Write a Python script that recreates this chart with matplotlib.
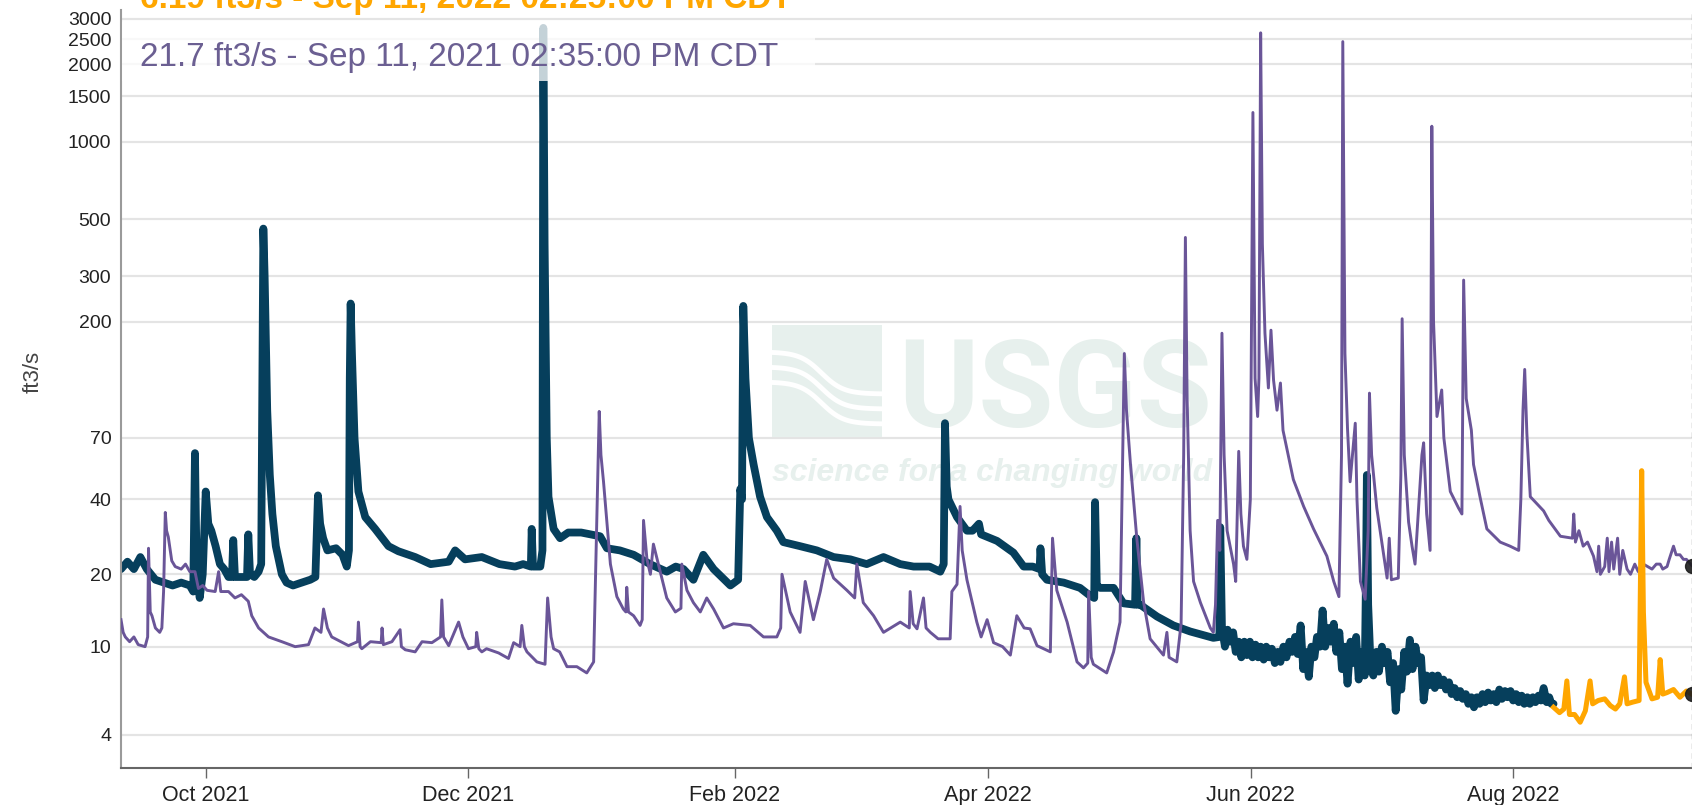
import numpy as np
import matplotlib
matplotlib.use("Agg")
import matplotlib.pyplot as plt
from matplotlib.patches import Rectangle
from matplotlib.ticker import NullLocator
from datetime import datetime, timedelta

# time axis: days counted from the left edge of the plot
start = datetime(2021, 9, 11, 8, 0)
span_days = 365.3

# current year (dark) discharge, ft3/s
dark_days = [0, 1.5, 3, 4.5, 6, 8, 10, 12, 14, 16, 16.8, 17.2, 17.6, 18.3, 19.0, 19.7, 20.3, 21.0,
             22.0, 23.0, 24.0, 25.0, 25.8, 26.1, 26.5, 28.0, 29.3, 29.6, 30.0, 31.0, 32.0, 32.6,
             32.9, 33.1, 33.4, 34.0, 34.6, 35.2, 36.0, 37.4, 38.5, 40, 42, 44, 45.2, 45.8, 46.3,
             47, 48, 50, 51.5, 52.5, 53.0, 53.2, 53.4, 53.7, 54.3, 55.2, 56.8, 59.1, 62.2, 64.5,
             68.4, 72, 76.2, 77.7, 80, 83.9, 88, 91.6, 93.5, 95.3, 95.5, 95.8, 97.5, 98.0, 98.2,
             98.5, 99.0, 99.4, 100.6, 102.1, 104, 107, 111.4, 113, 116, 119.2, 123, 126.9, 129,
             130.8, 133.1, 135.4, 137.8, 141.7, 143.5, 144.0, 144.4, 144.7, 145.2, 146, 147.1,
             148.6, 150.2, 152.5, 154, 157.9, 161.8, 165.7, 169.6, 173.4, 177.3, 181.2, 184.3,
             188, 190.5, 191.3, 191.6, 192.0, 192.4, 194.4, 196.7, 198, 199.5, 200, 203.7, 207.5,
             209.9, 212, 213.6, 213.8, 214.2, 215.3, 219.2, 223, 225.4, 226.3, 226.5, 226.9,
             227.7, 230.8, 233.1, 235.8, 236.1, 236.4, 237, 240.9, 244.7, 248.6, 254, 255.4,
             255.6, 256, 256.7, 257.3, 257.9, 258.6, 259.2, 259.9, 260.5, 261.2, 261.8, 262.5,
             263.1, 263.8, 264.4, 265, 265.7, 266.3, 267, 267.6, 268.3, 269, 269.6, 270.3, 271,
             271.7, 272.3, 273, 273.6, 274.3, 274.9, 275.5, 276.2, 276.8, 277.5, 278.1, 278.8,
             279.4, 280, 280.7, 281.3, 282, 282.6, 283.3, 283.9, 284.6, 285.2, 285.9, 286.5,
             287.2, 287.8, 288.5, 289.2, 289.5, 289.7, 290.0, 290.6, 291.2, 291.9, 292.5, 293.2,
             293.8, 294.5, 295.1, 295.8, 296.4, 297.1, 297.7, 298.4, 299, 299.7, 300.3, 301,
             301.6, 302.3, 302.9, 303.6, 304.2, 304.9, 305.5, 306.2, 306.8, 307.5, 308.1, 308.8,
             309.4, 310.1, 310.7, 311.4, 312, 312.7, 313.3, 314, 314.6, 315.3, 315.9, 316.6,
             317.2, 317.9, 318.5, 319.2, 319.8, 320.5, 321.1, 321.8, 322.4, 323.1, 323.7, 324.4,
             325, 325.7, 326.3, 327, 327.6, 328.3, 328.9, 329.6, 330.2, 330.8, 331.5, 332.1,
             332.6, 333.1]
dark_vals = [21, 22.5, 21, 23.5, 21, 19, 18.5, 18, 18.5, 18, 17, 61, 20, 16, 20, 43, 32, 30,
             26, 22, 21, 19.5, 19.5, 27.5, 19.5, 19.5, 19.5, 29, 20, 19.5, 20.5, 22,
             150, 460, 300, 90, 50, 35, 26, 20, 18.5, 18, 18.5, 19, 19.5, 41.5, 32,
             28, 25, 25.5, 24, 21.5, 25, 120, 235, 150, 70, 43, 34, 30.5, 26, 24.8,
             23.5, 22, 22.5, 25, 23, 23.5, 22, 21.5, 22, 21.5, 30.5, 21.5, 21.5, 25, 2770,
             400, 70, 41, 30.5, 28, 29.5, 29.5, 28.5, 25.5, 25, 24, 22, 20.5, 21.5,
             21, 19, 24, 21, 18, 19, 44, 40, 230, 120, 70, 55,
             41, 34, 30, 27, 26, 25, 23.5, 23, 22, 23.5, 22, 21.5,
             21.5, 20.5, 22, 80, 45, 40, 34, 30, 30, 32, 29, 27.3, 24.5,
             21.5, 21.5, 21, 25.5, 20, 19, 18.5, 17.6, 16.3, 16, 39, 18,
             17.6, 17.6, 15.2, 15, 28, 15, 15, 13.4, 12.3, 11.6, 10.9, 11,
             31, 12, 10, 11.8, 10.5, 11.5, 9.5, 10.5, 9, 10.5, 9.2, 10.5,
             9, 10.2, 9, 10, 8.8, 10, 9, 9.8, 8.5, 9.5, 8.6, 10, 9,
             10.5, 9.5, 11, 9.3, 12.3, 8, 9.5, 7.4, 10, 9, 11, 10,
             14.2, 10, 12, 10.5, 12.5, 9.5, 11.5, 8, 10, 6.9, 10.5, 8.5,
             11, 7.2, 9.5, 7.5, 20, 50, 15, 8, 7.5, 9.5, 7.8, 10,
             8.5, 9.5, 7, 8.5, 5.2, 8, 6.5, 9.5, 7.8, 10.7, 8, 10,
             8.5, 9, 5.8, 7.5, 6.8, 7.5, 6.6, 7.5, 6.8, 7.2, 6.5, 7.0,
             6.2, 6.6, 6.0, 6.4, 5.9, 6.2, 5.6, 6.0, 5.4, 6.0, 5.6, 6.2,
             5.7, 6.3, 5.8, 6.2, 5.7, 6.5, 5.9, 6.4, 6.0, 6.4, 5.8, 6.2,
             5.7, 6.1, 5.6, 6.0, 5.6, 6.0, 5.7, 6.1, 5.8, 6.6, 5.7, 6.0,
             5.6, 5.6]

# provisional recent data (orange)
orange_days = [333.1, 334.5, 335.5, 336.2, 336.8, 338, 339.3, 340.5, 341.6, 342.2, 343.5, 345,
               346.3, 347.5, 348.5, 349.6, 350.2, 351.5, 353, 353.6, 354.0, 354.6, 356, 357.3,
               357.9, 358.5, 359.5, 361, 362.5, 364, 365.27]
orange_vals = [5.4, 5.1, 5.3, 7.1, 5.0, 5.0, 4.6, 5.2, 7.1, 5.6, 5.8, 5.9,
               5.5, 5.3, 5.6, 7.4, 5.6, 5.7, 5.8, 52, 14, 7, 5.9, 6.0,
               8.8, 6.2, 6.3, 6.5, 6.0, 6.4, 6.19]

# previous year shifted forward one year (purple)
purple_days = [0, 0.5, 1.0, 2, 3, 4, 5.6, 6.2, 6.4, 6.8, 7.2, 8, 9, 9.5, 9.9, 10.3, 10.6, 11.0,
               11.8, 12.6, 14, 15, 16, 17.2, 18.0, 19, 20, 21.9, 22.7, 23.2, 25, 26.5, 28, 29.6,
               30.4, 32.0, 34.3, 37.4, 40.5, 43.6, 45.1, 46.5, 47.1, 48, 49.0, 52.9, 55.0, 55.2,
               55.6, 56, 58, 60.5, 60.7, 61, 63, 64.9, 65.2, 66.1, 68.4, 70, 72.3, 74.3, 74.6, 75,
               76.2, 78.5, 79.5, 80.8, 82.5, 82.7, 83.2, 83.9, 85, 87.8, 90.1, 91.3, 92.8, 93.2,
               93.8, 94.4, 96.7, 98.6, 99.2, 100, 100.6, 102, 103.7, 106, 108.3, 109.9, 110.6,
               111.2, 111.6, 112.2, 113.8, 115.3, 116.8, 117.4, 117.6, 118, 119.2, 120.7, 121.2,
               121.5, 122.3, 123.1, 123.8, 125.4, 126.9, 128.9, 130.2, 130.4, 131.6, 133.1, 134.7,
               136.2, 137.8, 140.1, 142.4, 146.3, 149.4, 152.5, 153.4, 153.7, 155.6, 157.9, 159.1,
               161, 162.6, 164.1, 165.7, 168.8, 170.6, 171.1, 172.6, 175, 177.3, 181.2, 183.3,
               183.5, 184.2, 185.1, 186.6, 187.2, 188.2, 190, 192.8, 193.2, 194.4, 195.1, 195.6,
               196.7, 199, 200, 201.4, 202.9, 205, 206.8, 208.3, 210, 211.4, 213, 216.1, 216.6,
               217.6, 220, 222.3, 223.8, 224.8, 225, 225.6, 226.1, 229.2, 230.8, 232.3, 232.8,
               233.3, 233.8, 234.7, 236.2, 237.8, 239.3, 242.4, 243.2, 243.7, 245.5, 246.5, 247.1,
               247.5, 247.9, 248.6, 249.4, 251, 253.3, 254, 254.5, 255, 255.5, 256, 256.5, 257.2,
               258.7, 259.2, 259.9, 260.4, 261, 261.8, 262.6, 263.2, 263.7, 264.3, 264.6, 265,
               265.4, 266, 266.8, 267.4, 268, 268.8, 269.6, 270.2, 272.6, 275, 277.3, 280.4, 282,
               283.2, 283.8, 284.1, 284.6, 285.2, 285.8, 287, 287.4, 288.2, 289.3, 290, 290.3,
               290.8, 292, 293.3, 294.4, 294.9, 295.4, 297.0, 297.6, 297.9, 298.4, 299.4, 300.2,
               300.9, 302.5, 302.9, 303.6, 304.4, 304.8, 305.2, 306, 307.1, 307.6, 309.1, 311,
               311.8, 312.2, 312.8, 314, 314.5, 316, 317.6, 320.7, 323, 325, 325.5, 326.0, 326.4,
               326.9, 327.7, 330.8, 332, 334.7, 337.5, 337.8, 338.2, 339, 340, 341, 342.4, 343.2,
               343.6, 344, 345, 345.6, 346, 346.6, 347.1, 348, 348.5, 349.2, 350.2, 351, 352,
               352.8, 353, 354, 355, 356, 357, 357.9, 358.5, 359.5, 360, 361, 361.6, 362.5, 363.3,
               364, 365.27]
purple_vals = [13, 11.5, 11, 10.5, 11, 10.2, 10, 11, 25.5, 14, 13.5, 12, 11.5, 12, 17, 35.5, 30, 28.3,
               22.7, 21.5, 21, 22, 20.5, 20.5, 17.5, 18, 17.2, 17, 20.5, 17, 17, 16, 16.5, 15.5,
               13.5, 12, 11, 10.5, 10, 10.2, 12, 11.5, 14.4, 12, 11, 10.1, 10.5, 12.7,
               10, 9.8, 10.5, 10.4, 12, 10.2, 10.5, 11.8, 10, 9.7, 9.5, 10.5, 10.4, 11, 15.7, 11,
               10.1, 12.7, 11, 9.8, 10, 11.5, 9.8, 9.5, 9.8, 9.4, 8.9, 10.4, 10, 12.3,
               10, 9.5, 8.6, 8.4, 16, 11, 9.8, 9.5, 8.2, 8.2, 7.7, 8.6, 30.5,
               89, 60, 47, 22, 16.2, 14.4, 14, 17.7, 14, 13.5, 12.3, 13,
               33, 23, 20, 26.5, 20.5, 16, 14, 14.5, 22, 17.2, 15.3, 14,
               16, 14.4, 12, 12.5, 12.3, 11, 11, 12, 20, 14, 11.5, 18.7,
               13, 17, 23, 19.3, 17.2, 16, 22, 15.3, 13.5, 11.5, 12.7, 12,
               17, 12.5, 11.9, 16, 12, 11.5, 10.8, 10.8, 17, 18.2, 37.5, 25,
               19, 12.7, 11, 13, 10.4, 10, 9.2, 13.5, 12, 11.9, 10.1, 9.5, 28,
               17.2, 12.7, 8.6, 8.1, 8.5, 17, 9, 8.4, 7.7, 9.5, 12.7, 44,
               150, 90, 56, 28, 15.3, 10.8, 9.2, 11.5, 9, 8.6, 12.5, 60,
               425, 100, 30, 18.7, 15.3, 12, 11.5, 15, 33, 25, 180, 60, 30,
               22, 18.7, 62, 35, 26, 23, 40, 1300, 120, 85, 120, 2650,
               400, 180, 110, 185, 118, 90, 115, 75, 48, 37.5, 30.5, 23.7, 18.7,
               16.2, 60, 2450, 150, 76, 47, 80, 40, 18.7, 15.8, 30, 105,
               60, 37, 26, 19.3, 28, 19, 19.3, 50, 205, 60, 32.5, 26,
               22, 60, 67, 35, 25, 1150, 200, 85, 108, 70, 43, 37,
               35, 290, 100, 75, 55, 41, 30.5, 27, 26, 25, 40, 90, 130,
               73, 41, 36, 33, 28.5, 28, 35, 27, 30, 26, 27, 23.7, 20.5,
               26, 20, 21.5, 28, 20.5, 27, 21, 28, 20, 25, 21, 20, 22,
               20.5, 21, 22, 21.5, 21, 22, 22, 21, 21.5, 23, 26, 24, 24, 23,
               23, 21.7]

y_ticks = [4, 10, 20, 40, 70, 200, 300, 500, 1000, 1500, 2000, 2500, 3000]
x_ticks = [datetime(2021, 10, 1), datetime(2021, 12, 1), datetime(2022, 2, 1),
           datetime(2022, 4, 1), datetime(2022, 6, 1), datetime(2022, 8, 1)]
x_tick_labels = ["Oct 2021", "Dec 2021", "Feb 2022", "Apr 2022", "Jun 2022", "Aug 2022"]
current_text = "6.19 ft3/s - Sep 11, 2022 02:25:00 PM CDT"
last_year_text = "21.7 ft3/s - Sep 11, 2021 02:35:00 PM CDT"

dark_color = "#063f5c"
purple_color = "#6a5598"
orange_color = "#ffa600"
mark_color = "#e7f0ed"

plt.rcParams['font.family'] = ['Liberation Sans', 'DejaVu Sans']

W, H = 1692, 805


def to_dates(days):
    return [start + timedelta(days=d) for d in days]


def fwd(v):
    return np.log10(np.clip(v, 0, None) + 1.0)


def inv(u):
    return 10.0 ** u - 1.0


fig = plt.figure(figsize=(W / 100, H / 100), dpi=100)
ax = fig.add_axes([121 / W, 1 - 768 / H, 1 - 121 / W, (768 - 10) / H])

# watermark behind the data
ax.add_patch(Rectangle((772 / W, 1 - 437 / H), 110 / W, 112 / H, transform=fig.transFigure,
                       facecolor=mark_color, edgecolor='none', zorder=0.8))
t = np.linspace(0, 1, 60)
for i in range(3):
    wx = (772 + 110 * t) / W
    wy = 1 - (352 + 15 * i + 42 * (0.5 + 0.5 * np.tanh((t - 0.45) * 5))) / H
    ax.plot(wx, wy, transform=fig.transFigure, color='white', lw=3.5, zorder=0.85)
ax.text(898 / W, 1 - 427 / H, "USGS", transform=fig.transFigure, fontsize=88,
        fontweight='bold', family=['Roboto', 'DejaVu Sans'], color=mark_color,
        va='baseline', ha='left', zorder=0.8)
ax.text(772 / W, 1 - 481 / H, "science for a changing world", transform=fig.transFigure,
        fontsize=23, fontweight='bold', style='italic', color=mark_color,
        va='baseline', ha='left', zorder=0.8)

ax.plot(to_dates(dark_days), dark_vals, color=dark_color, lw=5.6,
        solid_joinstyle='round', solid_capstyle='round', zorder=2)
ax.plot(to_dates(purple_days), purple_vals, color=purple_color, lw=2.1, zorder=3)
ax.plot(to_dates(orange_days), orange_vals, color=orange_color, lw=3.6,
        solid_joinstyle='round', zorder=4)

end_x = to_dates([purple_days[-1]])[0]
ax.axvline(end_x, color='#999999', lw=1, ls=(0, (4, 3)), zorder=5)
ax.plot([end_x, end_x], [purple_vals[-1], orange_vals[-1]], ls='none', marker='o',
        ms=10, color='#1c1c1c', alpha=0.9, clip_on=False, zorder=6)

ax.set_yscale('function', functions=(fwd, inv))
ax.set_ylim(2.72, 3250)
ax.set_xlim(start, start + timedelta(days=span_days))
ax.set_yticks(y_ticks)
ax.set_yticklabels([str(v) for v in y_ticks])
ax.yaxis.set_minor_locator(NullLocator())
ax.set_xticks(x_ticks)
ax.set_xticklabels(x_tick_labels)
ax.xaxis.set_minor_locator(NullLocator())

ax.grid(axis='y', color='#e4e4e4', lw=1.6)
ax.set_axisbelow(True)
for side in ['top', 'right']:
    ax.spines[side].set_visible(False)
ax.spines['left'].set_color('#9a9a9a')
ax.spines['left'].set_linewidth(1.5)
ax.spines['bottom'].set_color('#666666')
ax.spines['bottom'].set_linewidth(1.5)
ax.tick_params(axis='y', length=0, pad=7, labelsize=14, labelcolor='#222222')
ax.tick_params(axis='x', length=7, width=1, color='#666666', pad=5, labelsize=15.5,
               labelcolor='#222222')

ax.set_ylabel("ft3/s", fontsize=16, color='#444444')
ax.yaxis.set_label_coords(-0.049, 0.522)

# hover readout box over the top-left corner
ax.add_patch(Rectangle((122 / W, 1 - 81 / H), (815 - 122) / W, 59 / H, transform=fig.transFigure,
                       facecolor='white', edgecolor='none', alpha=0.77, zorder=7, clip_on=False))
fig.text(140 / W, 1 - 8 / H, current_text, fontsize=24, fontweight='bold',
         color=orange_color, va='baseline', ha='left')
fig.text(140 / W, 1 - 66 / H, last_year_text, fontsize=24,
         color='#6b5f92', va='baseline', ha='left')

fig.savefig("out.png", dpi=100)
